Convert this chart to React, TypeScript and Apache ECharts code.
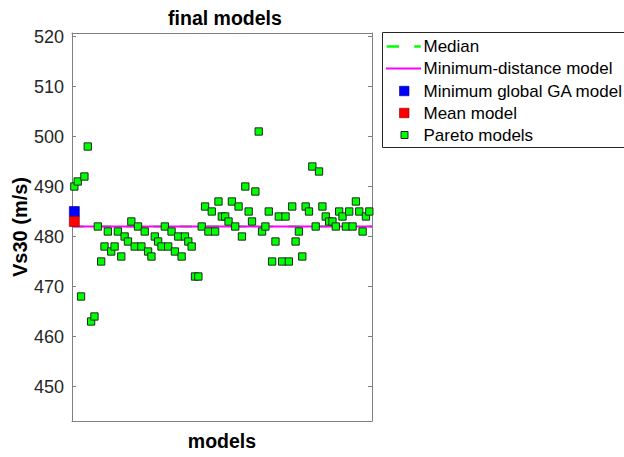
import React, { useEffect, useRef } from "react";
import * as echarts from "echarts";

const FONT = "'Liberation Sans', Arial, sans-serif";

// Pareto models (index 1..89), Vs30 in m/s
const paretoValues: number[] = [
  490, 491, 468, 492, 498, 463, 464, 482, 475, 478,
  481, 477, 478, 481, 476, 480, 479, 483, 478, 482,
  478, 481, 477, 476, 480, 479, 478, 482, 478, 481,
  477, 480, 476, 480, 479, 478, 472, 472, 482, 486,
  481, 485, 481, 487, 484, 484, 483, 487, 482, 486,
  480, 490, 485, 483, 489, 501, 481, 482, 485, 475,
  479, 484, 475, 484, 475, 486, 479, 481, 476, 486,
  485, 494, 482, 493, 486, 484, 483, 483, 482, 485,
  484, 482, 485, 482, 487, 485, 481, 484, 485,
];
const medianValue = 482;
const minDistanceValue = 482;
const minGlobalGAValue = 485;
const meanValue = 483;

const yMin = 443.1;
const yMax = 520.7;
const xMin = 0.3;
const xMax = 89.8;

const legendLabels = [
  "Median",
  "Minimum-distance model",
  "Minimum global GA model",
  "Mean model",
  "Pareto models",
];

export default function App() {
  const ref = useRef<HTMLDivElement>(null);
  useEffect(() => {
    if (!ref.current) return;
    const chart = echarts.init(ref.current, null, { renderer: "svg" });
    const axisGray = "#808080";
    const paretoData = paretoValues.map((v, i) => [i + 1, v]);
    const rowY = [46.5, 68.5, 91, 113, 135];
    const textX = 423.5;
    const option: any = {
      animation: false,
      backgroundColor: "#ffffff",
      title: {
        text: "final models",
        left: 220,
        textAlign: "center",
        top: 3,
        textStyle: { fontFamily: FONT, fontWeight: "bold", fontSize: 19.5, color: "#000" },
      },
      grid: { left: 72, top: 33, width: 300, height: 388 },
      xAxis: [
        {
          type: "value",
          min: xMin,
          max: xMax,
          position: "bottom",
          name: "models",
          nameLocation: "middle",
          nameGap: 10,
          nameTextStyle: { fontFamily: FONT, fontWeight: "bold", fontSize: 19.5, color: "#000", verticalAlign: "top" },
          axisLine: { show: true, onZero: false, lineStyle: { color: axisGray, width: 1 } },
          axisTick: { show: false },
          axisLabel: { show: false },
          splitLine: { show: false },
        },
        {
          type: "value",
          min: xMin,
          max: xMax,
          position: "top",
          axisLine: { show: true, onZero: false, lineStyle: { color: axisGray, width: 1 } },
          axisTick: { show: false },
          axisLabel: { show: false },
          splitLine: { show: false },
        },
      ],
      yAxis: [
        {
          type: "value",
          min: yMin,
          max: yMax,
          splitNumber: 8,
          position: "left",
          name: "Vs30 (m/s)",
          nameLocation: "middle",
          nameGap: 42,
          nameTextStyle: { fontFamily: FONT, fontWeight: "bold", fontSize: 20, color: "#000" },
          axisLine: { show: true, onZero: false, lineStyle: { color: axisGray, width: 1 } },
          axisTick: { show: true, inside: true, length: 4, lineStyle: { color: axisGray } },
          axisLabel: {
            margin: 8,
            fontFamily: FONT,
            fontSize: 18,
            color: "#262626",
            formatter: (v: number) => (Math.abs(v % 10) < 1e-6 ? String(Math.round(v)) : ""),
          },
          splitLine: { show: false },
        },
        {
          type: "value",
          min: yMin,
          max: yMax,
          splitNumber: 8,
          position: "right",
          axisLine: { show: true, onZero: false, lineStyle: { color: axisGray, width: 1 } },
          axisTick: { show: true, inside: true, length: 4, lineStyle: { color: axisGray } },
          axisLabel: { show: false },
          splitLine: { show: false },
        },
      ],
      series: [
        {
          name: "Median",
          type: "line",
          data: [[xMin, medianValue], [xMax, medianValue]],
          symbol: "none",
          lineStyle: { color: "#00ff00", width: 2, type: [12, 15] },
          z: 1,
        },
        {
          name: "Minimum-distance model",
          type: "line",
          data: [[xMin, minDistanceValue], [xMax, minDistanceValue]],
          symbol: "none",
          lineStyle: { color: "#ff00ff", width: 2.2 },
          z: 2,
        },
        {
          name: "Minimum global GA model",
          type: "scatter",
          data: [[1, minGlobalGAValue]],
          symbol: "rect",
          symbolSize: 10,
          itemStyle: { color: "#0000ff", borderColor: "#00007a", borderWidth: 0.6, opacity: 1 },
          z: 3,
        },
        {
          name: "Mean model",
          type: "scatter",
          data: [[1, meanValue]],
          symbol: "rect",
          symbolSize: 10,
          itemStyle: { color: "#ff0000", borderColor: "#7a0000", borderWidth: 0.6, opacity: 1 },
          z: 3,
        },
        {
          name: "Pareto models",
          type: "scatter",
          data: paretoData,
          symbol: "rect",
          symbolSize: 7.3,
          itemStyle: { color: "#00ff00", borderColor: "#1a2a1a", borderWidth: 1, opacity: 1 },
          z: 4,
        },
      ],
      graphic: [
        {
          type: "group",
          children: [
            {
              type: "rect",
              shape: { x: 382.5, y: 32.5, width: 260, height: 115 },
              style: { fill: "#ffffff", stroke: "#262626", lineWidth: 1 },
            },
            {
              type: "line",
              shape: { x1: 386.7, y1: rowY[0], x2: 420.7, y2: rowY[0] },
              style: { stroke: "#00ff00", lineWidth: 2.5, lineDash: [12.3, 15.3] },
            },
            {
              type: "line",
              shape: { x1: 386, y1: rowY[1], x2: 421, y2: rowY[1] },
              style: { stroke: "#ff00ff", lineWidth: 2 },
            },
            {
              type: "rect",
              shape: { x: 399.5, y: rowY[2] - 4.75, width: 9.5, height: 9.5 },
              style: { fill: "#0000ff", stroke: "#00007a", lineWidth: 0.6 },
            },
            {
              type: "rect",
              shape: { x: 399.5, y: rowY[3] - 4.75, width: 9.5, height: 9.5 },
              style: { fill: "#ff0000", stroke: "#7a0000", lineWidth: 0.6 },
            },
            {
              type: "rect",
              shape: { x: 401, y: rowY[4] - 3.5, width: 7, height: 7 },
              style: { fill: "#00ff00", stroke: "#1a2a1a", lineWidth: 1 },
            },
            ...legendLabels.map((t, i) => ({
              type: "text",
              x: textX,
              y: rowY[i],
              style: {
                text: t,
                fontFamily: FONT,
                fontSize: 17,
                fill: "#000",
                textAlign: "left",
                textVerticalAlign: "middle",
                verticalAlign: "middle",
              },
            })),
          ],
        },
      ],
    };
    chart.setOption(option);
    return () => chart.dispose();
  }, []);
  return (
    <div
      ref={ref}
      style={{ position: "absolute", left: 0, top: 0, width: 624, height: 457, background: "#fff" }}
    />
  );
}
